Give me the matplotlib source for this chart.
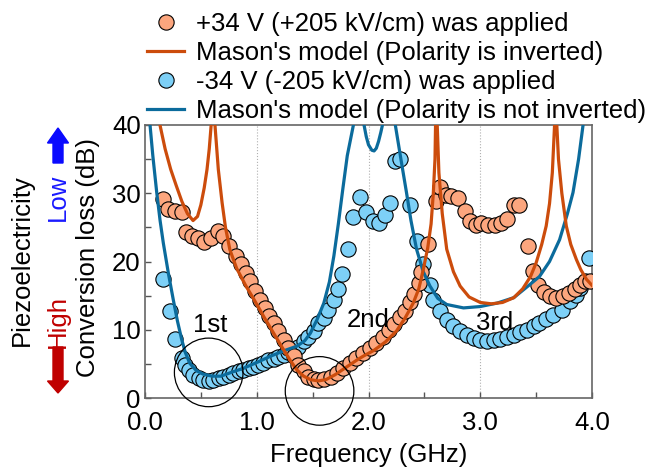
import numpy as np
import matplotlib.pyplot as plt
from matplotlib.patches import Circle, FancyArrow
from matplotlib.transforms import ScaledTranslation

plt.rcParams['font.family'] = ['Liberation Sans', 'DejaVu Sans']

# measured points, +34 V (orange)
pos_f = [0.16, 0.21, 0.27, 0.33, 0.37, 0.42, 0.47, 0.53, 0.59, 0.65, 0.70, 0.75,
         0.81, 0.86, 0.90, 0.94, 0.98, 1.03, 1.07, 1.11, 1.15, 1.19, 1.24, 1.28,
         1.33, 1.37, 1.42, 1.46, 1.51, 1.55, 1.60, 1.66, 1.72, 1.77, 1.83, 1.89,
         1.95, 2.01, 2.07, 2.13, 2.18, 2.23, 2.28, 2.33, 2.37, 2.41, 2.45, 2.47,
         2.53, 2.60, 2.64, 2.69, 2.74, 2.80, 2.86, 2.91, 2.96, 3.01, 3.07, 3.13,
         3.19, 3.24, 3.30, 3.35, 3.43, 3.47, 3.52, 3.57, 3.62, 3.68, 3.74, 3.79,
         3.85, 3.89, 3.94, 3.98]
pos_db = [29.1, 27.7, 27.4, 27.2, 24.3, 23.8, 23.4, 22.8, 23.5, 24.4, 23.7, 22.2,
          20.8, 19.6, 18.3, 17.1, 15.7, 14.4, 13.2, 12.0, 11.0, 9.8, 8.5, 7.3,
          6.1, 4.9, 3.9, 3.1, 2.75, 2.65, 2.75, 3.1, 3.6, 4.35, 5.1, 5.8,
          6.6, 7.3, 8.0, 9.0, 9.9, 10.8, 11.8, 12.8, 14.0, 15.3, 16.9, 18.4,
          22.6, 28.8, 30.9, 29.7, 29.6, 29.3, 27.4, 25.9, 25.4, 25.6, 25.4, 25.4,
          25.7, 26.3, 28.3, 28.3, 22.2, 18.6, 16.6, 15.6, 14.9, 14.7, 14.9, 15.4,
          15.9, 16.6, 17.1, 17.1]

# measured points, -34 V (blue)
neg_f = [0.16, 0.22, 0.27, 0.33, 0.36, 0.39, 0.43, 0.48, 0.52, 0.57, 0.61, 0.66,
         0.70, 0.75, 0.79, 0.84, 0.88, 0.93, 0.97, 1.01, 1.06, 1.10, 1.15, 1.19,
         1.24, 1.28, 1.33, 1.37, 1.42, 1.46, 1.51, 1.55, 1.60, 1.64, 1.69, 1.73,
         1.76, 1.82, 1.86, 1.92, 1.98, 2.04, 2.09, 2.15, 2.19, 2.24, 2.28, 2.37,
         2.43, 2.49, 2.55, 2.58, 2.64, 2.70, 2.76, 2.82, 2.88, 2.94, 3.00, 3.06,
         3.12, 3.18, 3.24, 3.30, 3.36, 3.42, 3.48, 3.53, 3.59, 3.65, 3.73, 3.80,
         3.86, 3.89, 3.97]
neg_db = [17.5, 12.7, 8.6, 5.8, 4.9, 4.1, 3.4, 2.9, 2.65, 2.55, 2.65, 2.9,
          3.1, 3.4, 3.6, 3.9, 4.1, 4.4, 4.6, 4.85, 5.2, 5.5, 5.7, 6.0,
          6.3, 6.7, 7.1, 7.5, 8.3, 9.0, 9.8, 11.0, 11.7, 12.9, 14.4, 15.9,
          18.1, 21.9, 26.5, 29.4, 27.3, 25.9, 25.7, 26.8, 28.6, 34.7, 35.0, 28.3,
          23.0, 19.6, 16.6, 14.4, 12.7, 11.5, 10.5, 9.75, 9.3, 8.8, 8.5, 8.4,
          8.5, 8.6, 8.9, 9.3, 9.6, 10.0, 10.5, 11.0, 11.6, 12.2, 12.9, 14.2,
          15.1, 16.1, 20.5]

# Mason's model, polarity inverted (orange), branches split at resonances
inv_branches = [
    ([0.134, 0.18, 0.23, 0.28, 0.33, 0.38, 0.43, 0.47, 0.50, 0.53, 0.555, 0.575, 0.592],
     [40, 36.5, 33.5, 31.1, 28.8, 27.0, 26.0, 26.6, 28.3, 30.8, 33.5, 36.5, 40]),
    ([0.626, 0.656, 0.69, 0.72, 0.76, 0.82, 0.90, 0.98, 1.06, 1.14, 1.22, 1.30, 1.36,
      1.42, 1.48, 1.55, 1.62, 1.70, 1.80, 1.90, 1.95, 2.05, 2.15, 2.25, 2.33, 2.40,
      2.45, 2.49, 2.53, 2.56, 2.58, 2.595, 2.60],
     [40, 33.5, 28.6, 25.0, 21.7, 19.0, 16.5, 14.3, 12.0, 9.8, 7.6, 5.5, 4.1,
      3.2, 2.7, 2.5, 2.7, 3.4, 4.5, 5.6, 6.1, 7.0, 8.2, 9.8, 11.8, 13.9,
      16.0, 18.8, 22.0, 25.5, 30.0, 35.0, 40]),
    ([2.615, 2.63, 2.66, 2.70, 2.76, 2.82, 2.90, 3.00, 3.10, 3.20, 3.30, 3.38, 3.45,
      3.50, 3.55, 3.59, 3.62, 3.645, 3.665],
     [40, 33, 27, 21.8, 18.5, 16.4, 14.8, 14.0, 13.8, 14.0, 14.7, 16.0, 17.8,
      19.8, 22.5, 25.2, 28.5, 33, 40]),
    ([3.685, 3.70, 3.73, 3.77, 3.81, 3.86, 3.90, 3.95, 4.0],
     [40, 35, 30, 25.2, 22.5, 20.3, 18.8, 17.4, 16.5]),
]

# Mason's model, polarity not inverted (blue)
non_branches = [
    ([0.045, 0.07, 0.105, 0.135, 0.164, 0.21, 0.253, 0.29, 0.328, 0.36, 0.40, 0.46,
      0.52, 0.60, 0.68, 0.78, 0.88, 1.00, 1.12, 1.24, 1.36, 1.43, 1.48, 1.54, 1.60,
      1.65, 1.69, 1.73, 1.77, 1.81, 1.865],
     [40, 35.5, 30.1, 26.0, 22.7, 18.2, 14.4, 11.3, 8.6, 6.7, 5.1, 4.0,
      3.5, 3.2, 3.2, 3.8, 4.35, 5.2, 6.1, 6.9, 7.6, 8.4, 9.5, 11.5, 13.9,
      17.0, 20.8, 25.5, 30.6, 35.5, 40]),
    ([1.96, 1.98, 2.00, 2.03, 2.05, 2.07, 2.09, 2.11, 2.125],
     [40, 38.3, 37.1, 36.3, 36.2, 36.6, 37.6, 38.9, 40]),
    ([2.24, 2.29, 2.34, 2.38, 2.43, 2.49, 2.55, 2.62, 2.70, 2.85, 3.00, 3.15, 3.30,
      3.42, 3.53, 3.62, 3.71, 3.78, 3.83, 3.88, 3.92],
     [40, 35, 30.1, 26.0, 21.8, 18.5, 16.4, 14.6, 13.7, 13.2, 13.4, 13.9, 14.7,
      16.3, 17.8, 20.0, 23.2, 27.0, 30.1, 35, 40]),
]


def join(branches):
    xs, ys = [], []
    for bx, by in branches:
        xs += list(bx) + [np.nan]
        ys += list(by) + [np.nan]
    return xs, ys


c_pos_pt = '#fca67e'
c_neg_pt = '#7dd0f7'
c_inv = '#cc4c0c'
c_non = '#0b6b9c'

W, H = 666, 472
fig = plt.figure(figsize=(W / 100, H / 100), dpi=100)
ax = fig.add_axes([145 / W, 1 - 398 / H, 447 / W, 273 / H])

ax.plot(neg_f, neg_db, 'o', ms=11, mfc=c_neg_pt, mec='black', mew=0.8, zorder=3,
        label='-34 V (-205 kV/cm) was applied')
ax.plot(pos_f, pos_db, 'o', ms=11, mfc=c_pos_pt, mec='black', mew=0.8, zorder=4,
        label='+34 V (+205 kV/cm) was applied')
x, y = join(non_branches)
ax.plot(x, y, color=c_non, lw=2.3, zorder=5,
        label='Mason\'s model (Polarity is not inverted)')
x, y = join(inv_branches)
ax.plot(x, y, color=c_inv, lw=2.3, zorder=6,
        label='Mason\'s model (Polarity is inverted)')

ax.set_xlim(0, 4)
ax.set_ylim(0, 40)
ax.set_xticks([0, 1, 2, 3, 4])
ax.set_xticklabels(['0.0', '1.0', '2.0', '3.0', '4.0'])
ax.set_xticks([0.5, 1.5, 2.5, 3.5], minor=True)
ax.set_yticks([0, 10, 20, 30, 40])
ax.set_yticks([5, 15, 25, 35], minor=True)
ax.tick_params(which='both', direction='in', length=4, width=1, color='#555555',
               labelsize=18.5)
ax.tick_params(axis='x', which='both', pad=9)
ax.tick_params(axis='y', which='both', pad=3)
for s in ax.spines.values():
    s.set_color('#666666')
    s.set_linewidth(1.2)
for g in [1, 2, 3]:
    ax.axvline(g, color='#b0b0b0', lw=0.8, ls=':', zorder=1)

ax.set_xlabel('Frequency (GHz)', fontsize=18.5, labelpad=6)
ax.set_ylabel('Conversion loss (dB)', fontsize=18.5)
ax.yaxis.set_label_coords(-0.10, 0.515)

# circles around the minima
for cx, cy in [(0.57, 3.75), (1.562, 1.04)]:
    tr = fig.dpi_scale_trans + ScaledTranslation(cx, cy, ax.transData)
    ax.add_patch(Circle((0, 0), 0.343, transform=tr, fill=False, ec='black',
                        lw=0.9, clip_on=False, zorder=7))
for txt, tx, ty in [('1st', 0.58, 10.7), ('2nd', 2.0, 11.45), ('3rd', 3.13, 11.0)]:
    ax.text(tx, ty, txt, fontsize=18.5, ha='center', va='center', zorder=8)

# legend above the axes
h, l = ax.get_legend_handles_labels()
order = [1, 3, 0, 2]
fig.legend([h[i] for i in order], [l[i] for i in order], loc='upper left',
           bbox_to_anchor=(147 / W, 1 - 12 / H), frameon=False, fontsize=18.5,
           handlelength=1.45, handletextpad=0.45, labelspacing=0.2,
           borderpad=0, borderaxespad=0)

# piezoelectricity guide on the left
fig.text(22 / W, 1 - 260 / H, 'Piezoelectricity', rotation=90, fontsize=18.5,
         ha='center', va='center')
fig.text(58 / W, 1 - 197 / H, 'Low', rotation=90, fontsize=18.5, color='#1a1aff',
         ha='center', va='center')
fig.text(58 / W, 1 - 322 / H, 'High', rotation=90, fontsize=18.5, color='#c00000',
         ha='center', va='center')
fig.patches.append(FancyArrow(0.58, (H - 163) / 100, 0, 0.35, width=0.10,
                              head_width=0.21, head_length=0.15,
                              length_includes_head=True, color='#0a0aff',
                              transform=fig.dpi_scale_trans, figure=fig))
fig.patches.append(FancyArrow(0.58, (H - 347) / 100, 0, -0.46, width=0.10,
                              head_width=0.21, head_length=0.12,
                              length_includes_head=True, color='#c00000',
                              transform=fig.dpi_scale_trans, figure=fig))

fig.savefig('out.png', dpi=100)
